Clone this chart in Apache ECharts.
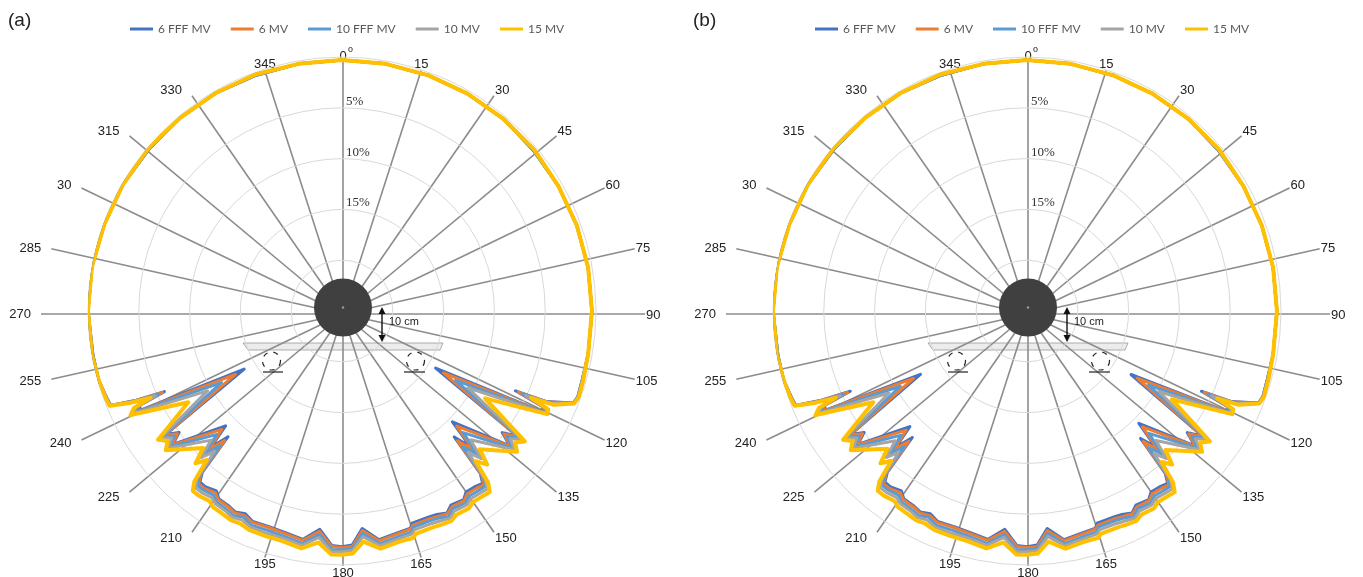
<!DOCTYPE html>
<html>
<head>
<meta charset="utf-8">
<script src="https://cdn.jsdelivr.net/npm/echarts@6/dist/echarts.min.js"></script>
<style>
  html, body { margin: 0; padding: 0; background: #ffffff; }
  #chart { width: 1363px; height: 577px; }
</style>
</head>
<body>
<div id="chart"></div>
<script>
// Beam energies shown in both panels
const seriesNames = ['6 FFF MV', '6 MV', '10 FFF MV', '10 MV', '15 MV'];
const seriesColors = ['#4472C4', '#ED7D31', '#5B9BD5', '#A5A5A5', '#FFC000'];

// Gantry-angle spokes and their labels
const spokeAngles = [0, 15, 30, 45, 60, 75, 90, 105, 120, 135, 150, 165, 180, 195, 210, 225, 240, 255, 270, 285, 300, 315, 330, 345];
const spokeLabels = ['0', '15', '30', '45', '60', '75', '90', '105', '120', '135', '150', '165', '180', '195', '210', '225', '240', '255', '270', '285', '30', '315', '330', '345'];
const spokeSuperscripts = ['o', '', '', '', '', '', '', '', '', '', '', '', '', '', '', '', '', '', '', '', '', '', '', ''];

// Attenuation rings (percent)
const radiusTicks = [5, 10, 15];

// Gantry angles (degrees) at which attenuation was sampled
const gantryAngles = [
  0, 10, 20, 30, 40, 50, 60, 70, 80, 90, 100, 106,
  110, 111.7, 113.9, 114.7, 115.5, 116.7, 121.4, 125.5, 127.2, 128.8, 135.1, 136.6, 138.3, 139.6, 140.8, 142.7, 145.6, 147.2, 150.7, 152.5, 155, 157.1, 161.7, 162.5, 166, 170.8, 174.7, 177.5, 180,
  182.5, 185.8, 189.7, 194.5, 198.7, 203, 205.5, 208, 210, 213.3, 214.9, 217.8, 219.7, 220.9, 222.2, 223.9, 225.4, 231.7, 233.3, 235, 239.3, 243.8, 245, 245.6, 246.6, 247.8, 250,
  254, 260, 270, 280, 290, 300, 310, 320, 330, 340, 350, 360
];

// Panel (a) attenuation, %
const a6fff = [
  0.3, 0.3, 0.3, 0.3, 0.3, 0.4, 0.4, 0.4, 0.4, 0.4, 0.4, 0.4,
  0.3, 0.5, 3.0, 6.2, 3.1, 2.9, 14.2, 3.8, 5.2, 3.8, 9.6, 6.6, 8.4, 4.0, 3.1, 3.3, 3.4, 2.9, 3.1, 2.6, 2.9, 3.0, 3.0, 2.6, 2.5, 2.2, 3.5, 1.95, 1.8,
  1.9, 3.4, 2.2, 2.5, 2.6, 2.5, 2.9, 2.6, 2.8, 2.9, 3.4, 3.1, 3.1, 4.0, 8.3, 6.4, 8.9, 3.8, 5.0, 3.8, 13.8, 2.9, 3.0, 5.8, 2.8, 0.4, 0.3,
  0.1, 0.1, 0.0, 0.0, 0.1, 0.1, 0.2, 0.2, 0.2, 0.3, 0.3, 0.3
];
const a6 = [
  0.3, 0.3, 0.3, 0.3, 0.3, 0.4, 0.4, 0.4, 0.4, 0.4, 0.4, 0.4,
  0.3, 0.5, 2.9, 5.9, 3.0, 2.8, 13.3, 3.7, 5.0, 3.7, 9.0, 6.2, 7.9, 3.8, 2.9, 3.1, 3.2, 2.8, 2.9, 2.5, 2.7, 2.8, 2.8, 2.5, 2.4, 2.1, 3.3, 1.8, 1.7,
  1.8, 3.2, 2.1, 2.4, 2.5, 2.4, 2.7, 2.5, 2.7, 2.8, 3.2, 2.9, 2.9, 3.8, 7.8, 6.1, 8.4, 3.7, 4.8, 3.7, 12.8, 2.7, 2.9, 5.6, 2.7, 0.4, 0.3,
  0.1, 0.1, 0.0, 0.0, 0.1, 0.1, 0.2, 0.2, 0.2, 0.3, 0.3, 0.3
];
const a10fff = [
  0.3, 0.3, 0.3, 0.3, 0.3, 0.4, 0.4, 0.4, 0.4, 0.4, 0.4, 0.4,
  0.3, 0.5, 2.7, 5.5, 2.9, 2.7, 11.9, 3.4, 4.6, 3.4, 8.1, 5.6, 7.1, 3.5, 2.7, 2.8, 2.9, 2.5, 2.7, 2.2, 2.5, 2.6, 2.6, 2.2, 2.1, 1.8, 3.0, 1.6, 1.5,
  1.5, 2.9, 1.8, 2.1, 2.2, 2.1, 2.5, 2.2, 2.4, 2.5, 2.9, 2.7, 2.7, 3.5, 7.1, 5.5, 7.7, 3.4, 4.4, 3.4, 11.2, 2.5, 2.8, 5.2, 2.6, 0.4, 0.3,
  0.1, 0.1, 0.0, 0.0, 0.1, 0.1, 0.2, 0.2, 0.2, 0.3, 0.3, 0.3
];
const a10 = [
  0.3, 0.3, 0.3, 0.3, 0.3, 0.3, 0.4, 0.4, 0.4, 0.4, 0.4, 0.3,
  0.2, 0.4, 2.5, 5.1, 2.7, 2.6, 10.5, 3.2, 4.2, 3.2, 7.1, 5.0, 6.3, 3.2, 2.4, 2.5, 2.6, 2.3, 2.4, 2.0, 2.2, 2.3, 2.3, 2.0, 1.9, 1.6, 2.7, 1.4, 1.3,
  1.3, 2.6, 1.6, 1.9, 1.9, 1.9, 2.2, 2.0, 2.2, 2.3, 2.6, 2.4, 2.4, 3.2, 6.3, 5.0, 6.9, 3.2, 4.1, 3.2, 9.6, 2.2, 2.6, 4.8, 2.4, 0.3, 0.2,
  0.1, 0.0, 0.0, 0.0, 0.1, 0.1, 0.1, 0.2, 0.2, 0.2, 0.3, 0.3
];
const a15 = [
  0.3, 0.3, 0.3, 0.3, 0.3, 0.3, 0.4, 0.4, 0.4, 0.4, 0.4, 0.3,
  0.2, 0.4, 2.2, 4.5, 2.5, 2.4, 8.5, 2.9, 3.6, 2.9, 5.8, 4.2, 5.2, 2.8, 2.0, 2.1, 2.2, 1.9, 2.0, 1.7, 1.8, 1.9, 1.9, 1.6, 1.6, 1.3, 2.2, 1.1, 1.0,
  1.0, 2.1, 1.3, 1.6, 1.6, 1.6, 1.8, 1.7, 1.8, 1.9, 2.2, 2.0, 2.0, 2.8, 5.2, 4.2, 5.8, 2.9, 3.6, 2.9, 7.4, 1.8, 2.4, 4.3, 2.2, 0.3, 0.2,
  0.1, 0.0, 0.0, 0.0, 0.1, 0.1, 0.1, 0.2, 0.2, 0.2, 0.3, 0.3
];

// Panel (b) attenuation, %
const b6fff = [
  0.3, 0.3, 0.3, 0.3, 0.3, 0.4, 0.4, 0.4, 0.4, 0.4, 0.4, 0.4,
  0.3, 0.5, 3.0, 6.1, 3.1, 2.9, 13.0, 3.8, 5.2, 3.8, 9.4, 6.6, 8.2, 4.0, 3.1, 3.3, 3.4, 2.9, 3.1, 2.6, 2.9, 3.0, 3.0, 2.6, 2.5, 2.2, 3.5, 1.95, 1.8,
  1.9, 3.4, 2.2, 2.5, 2.6, 2.5, 2.9, 2.6, 2.8, 2.9, 3.4, 3.1, 3.1, 4.0, 8.2, 6.4, 8.8, 3.8, 5.0, 3.8, 12.8, 2.9, 3.0, 5.9, 2.8, 0.4, 0.3,
  0.1, 0.1, 0.0, 0.0, 0.1, 0.1, 0.2, 0.2, 0.2, 0.3, 0.3, 0.3
];
const b6 = [
  0.3, 0.3, 0.3, 0.3, 0.3, 0.4, 0.4, 0.4, 0.4, 0.4, 0.4, 0.4,
  0.3, 0.5, 2.9, 5.8, 3.0, 2.8, 12.3, 3.7, 5.0, 3.7, 8.9, 6.2, 7.8, 3.8, 2.9, 3.1, 3.2, 2.8, 2.9, 2.5, 2.7, 2.8, 2.8, 2.5, 2.4, 2.1, 3.3, 1.8, 1.7,
  1.8, 3.2, 2.1, 2.4, 2.5, 2.4, 2.7, 2.5, 2.7, 2.8, 3.2, 2.9, 2.9, 3.8, 7.7, 6.1, 8.3, 3.7, 4.8, 3.7, 12.0, 2.7, 2.9, 5.6, 2.7, 0.4, 0.3,
  0.1, 0.1, 0.0, 0.0, 0.1, 0.1, 0.2, 0.2, 0.2, 0.3, 0.3, 0.3
];
const b10fff = [
  0.3, 0.3, 0.3, 0.3, 0.3, 0.4, 0.4, 0.4, 0.4, 0.4, 0.4, 0.4,
  0.3, 0.5, 2.7, 5.4, 2.9, 2.7, 11.0, 3.4, 4.6, 3.4, 8.0, 5.6, 7.0, 3.5, 2.7, 2.8, 2.9, 2.5, 2.7, 2.2, 2.5, 2.6, 2.6, 2.2, 2.1, 1.8, 3.0, 1.6, 1.5,
  1.5, 2.9, 1.8, 2.1, 2.2, 2.1, 2.5, 2.2, 2.4, 2.5, 2.9, 2.7, 2.7, 3.5, 7.0, 5.5, 7.6, 3.4, 4.4, 3.4, 10.5, 2.5, 2.8, 5.2, 2.6, 0.4, 0.3,
  0.1, 0.1, 0.0, 0.0, 0.1, 0.1, 0.2, 0.2, 0.2, 0.3, 0.3, 0.3
];
const b10 = [
  0.3, 0.3, 0.3, 0.3, 0.3, 0.3, 0.4, 0.4, 0.4, 0.4, 0.4, 0.3,
  0.2, 0.4, 2.5, 5.0, 2.7, 2.6, 9.8, 3.2, 4.2, 3.2, 7.0, 5.0, 6.2, 3.2, 2.4, 2.5, 2.6, 2.3, 2.4, 2.0, 2.2, 2.3, 2.3, 2.0, 1.9, 1.6, 2.7, 1.4, 1.3,
  1.3, 2.6, 1.6, 1.9, 1.9, 1.9, 2.2, 2.0, 2.2, 2.3, 2.6, 2.4, 2.4, 3.2, 6.2, 5.0, 6.8, 3.2, 4.1, 3.2, 9.2, 2.2, 2.6, 4.8, 2.4, 0.3, 0.2,
  0.1, 0.0, 0.0, 0.0, 0.1, 0.1, 0.1, 0.2, 0.2, 0.2, 0.3, 0.3
];
const b15 = [
  0.3, 0.3, 0.3, 0.3, 0.3, 0.3, 0.4, 0.4, 0.4, 0.4, 0.4, 0.3,
  0.2, 0.4, 2.2, 4.4, 2.5, 2.4, 8.3, 2.9, 3.6, 2.9, 5.7, 4.2, 5.1, 2.8, 2.0, 2.1, 2.2, 1.9, 2.0, 1.7, 1.8, 1.9, 1.9, 1.6, 1.6, 1.3, 2.2, 1.1, 1.0,
  1.0, 2.1, 1.3, 1.6, 1.6, 1.6, 1.8, 1.7, 1.8, 1.9, 2.2, 2.0, 2.0, 2.8, 5.1, 4.2, 5.7, 2.9, 3.6, 2.9, 7.4, 1.8, 2.4, 4.3, 2.2, 0.3, 0.2,
  0.1, 0.0, 0.0, 0.0, 0.1, 0.1, 0.1, 0.2, 0.2, 0.2, 0.3, 0.3
];

const SANS = 'Liberation Sans, Arial, sans-serif';
const SERIF = 'Liberation Serif, Times New Roman, serif';

// Layout of the two panels: polar plot centre, spoke hub, legend position
const panels = [
  { tag: '(a)', tagX: 8, polar: [342, 311], hub: [343, 314], legendLeft: 125, values: [a6fff, a6, a10fff, a10, a15] },
  { tag: '(b)', tagX: 693, polar: [1027, 311], hub: [1028, 314], legendLeft: 810, values: [b6fff, b6, b10fff, b10, b15] }
];
const SPOKE_RX = 302, SPOKE_RY = 252, PLOT_R = 254;

function spokeItem(params, api) {
  const deg = api.value(0);
  const t = deg * Math.PI / 180;
  const s = Math.sin(t), c = Math.cos(t);
  const o = api.coord([0, 0]);
  const e = api.coord([s, c]);
  const i = params.dataIndex;
  let align = 'center', dx = 0;
  if (s > 0.3) { align = 'left'; dx = 1; }
  else if (s < -0.3) { align = 'right'; dx = -10; }
  const lx = e[0] + dx;
  const ly = e[1] - 7 * c + (c < 0 ? 0 : 1);
  const children = [
    { type: 'line', shape: { x1: o[0], y1: o[1], x2: e[0], y2: e[1] },
      style: { stroke: '#8c8c8c', lineWidth: 1.6 } },
    { type: 'text', x: lx, y: ly,
      style: { text: spokeLabels[i], align: align, verticalAlign: 'middle',
               font: '13px ' + SANS, fill: '#222222' } }
  ];
  if (spokeSuperscripts[i]) {
    children.push({ type: 'text', x: lx + 5, y: ly - 7,
      style: { text: spokeSuperscripts[i], align: 'left', verticalAlign: 'middle',
               font: '10px ' + SERIF, fill: '#222222' } });
  }
  return { type: 'group', children: children };
}

function panelGraphics(p) {
  const hx = p.hub[0], hy = p.hub[1];
  const els = [];
  // panel tag
  els.push({ type: 'text', left: p.tagX, top: 11, z: 10,
    style: { text: p.tag, font: '19px ' + SANS, fill: '#222222' } });
  // treatment couch top
  els.push({ type: 'polygon', z: 1,
    shape: { points: [[hx - 100, hy + 29], [hx + 100, hy + 29], [hx + 97, hy + 36], [hx - 95, hy + 36]] },
    style: { fill: '#ececec', stroke: '#9a9a9a', lineWidth: 0.8 } });
  // phantom
  els.push({ type: 'circle', z: 20, shape: { cx: hx, cy: hy - 6.5, r: 29 }, style: { fill: '#404040' } });
  els.push({ type: 'circle', z: 21, shape: { cx: hx, cy: hy - 6.5, r: 1.2 }, style: { fill: '#9a9a9a' } });
  // 10 cm marker
  const ax = hx + 39;
  els.push({ type: 'line', z: 20, shape: { x1: ax, y1: hy - 3, x2: ax, y2: hy + 24 },
    style: { stroke: '#111111', lineWidth: 1.4 } });
  els.push({ type: 'polygon', z: 20, shape: { points: [[ax, hy - 7], [ax - 3.5, hy], [ax + 3.5, hy]] },
    style: { fill: '#111111' } });
  els.push({ type: 'polygon', z: 20, shape: { points: [[ax, hy + 28], [ax - 3.5, hy + 21], [ax + 3.5, hy + 21]] },
    style: { fill: '#111111' } });
  els.push({ type: 'text', z: 20, x: ax + 7, y: hy + 8,
    style: { text: '10 cm', font: '11px ' + SANS, fill: '#222222', verticalAlign: 'middle' } });
  // couch rails (dashed outlines)
  [[-71.5, -80, -60], [72.5, 61, 82]].forEach(function (r) {
    els.push({ type: 'circle', z: 20, shape: { cx: hx + r[0], cy: hy + 47, r: 9 },
      style: { fill: 'none', stroke: '#222222', lineWidth: 1.2, lineDash: [5, 6] } });
    els.push({ type: 'line', z: 20, shape: { x1: hx + r[1], y1: hy + 58, x2: hx + r[2], y2: hy + 58 },
      style: { stroke: '#222222', lineWidth: 1.2 } });
  });
  return els;
}

const option = {
  backgroundColor: '#ffffff',
  animation: false,
  legend: panels.map(function (p) {
    return {
      data: seriesNames, left: p.legendLeft, top: 18, icon: 'rect',
      itemWidth: 23, itemHeight: 3, itemGap: 20, selectedMode: false,
      textStyle: { fontFamily: 'Lato', fontSize: 12, color: '#595959' }
    };
  }),
  polar: panels.map(function (p) { return { center: p.polar, radius: PLOT_R }; }),
  angleAxis: panels.map(function (p, i) {
    return {
      polarIndex: i, type: 'value', min: 0, max: 360, startAngle: 90, clockwise: true,
      axisLine: { show: false }, axisTick: { show: false }, axisLabel: { show: false }, splitLine: { show: false }
    };
  }),
  radiusAxis: panels.map(function (p, i) {
    return {
      polarIndex: i, type: 'value', min: 0, max: 25, interval: 5, inverse: true, z: 4,
      axisLine: { show: false }, axisTick: { show: false },
      splitLine: { show: true, lineStyle: { color: '#d9d9d9', width: 1 } },
      axisLabel: {
        show: true, margin: -4, align: 'left', verticalAlign: 'bottom',
        fontFamily: SERIF, fontSize: 13, color: '#333333',
        formatter: function (v) { return radiusTicks.indexOf(v) >= 0 ? v + '%' : ''; }
      }
    };
  }),
  grid: panels.map(function (p) {
    return { left: p.hub[0] - SPOKE_RX, top: p.hub[1] - SPOKE_RY, width: 2 * SPOKE_RX, height: 2 * SPOKE_RY, show: false };
  }),
  xAxis: panels.map(function (p, i) { return { gridIndex: i, type: 'value', min: -1, max: 1, show: false }; }),
  yAxis: panels.map(function (p, i) { return { gridIndex: i, type: 'value', min: -1, max: 1, show: false }; }),
  graphic: { elements: panels.map(panelGraphics).reduce(function (a, b) { return a.concat(b); }, []) },
  series: []
};

panels.forEach(function (p, i) {
  option.series.push({
    type: 'custom', xAxisIndex: i, yAxisIndex: i, silent: true, z: 3,
    data: spokeAngles.map(function (a) { return [a]; }),
    renderItem: spokeItem
  });
  seriesNames.forEach(function (name, k) {
    option.series.push({
      type: 'line', name: name, coordinateSystem: 'polar', polarIndex: i, z: 5,
      symbol: 'none', showSymbol: false, silent: true,
      data: gantryAngles.map(function (a, j) { return [p.values[k][j], a]; }),
      itemStyle: { color: seriesColors[k] },
      lineStyle: { color: seriesColors[k], width: k === 4 ? 4 : 3, join: 'round', cap: 'round' }
    });
  });
});

const chart = echarts.init(document.getElementById('chart'));
chart.setOption(option);
</script>
</body>
</html>
